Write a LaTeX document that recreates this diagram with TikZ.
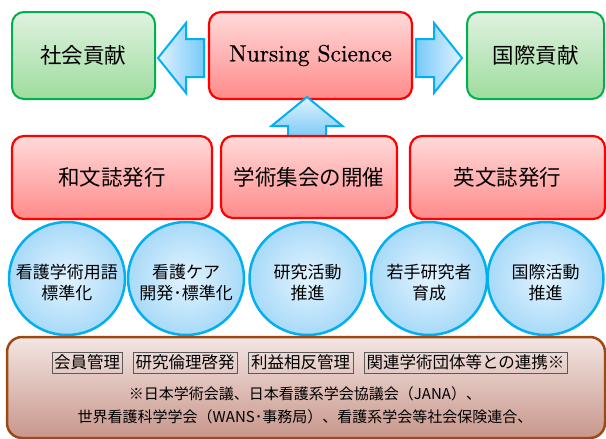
\documentclass[tikz,border=0pt]{standalone}
\usepackage{fontspec}
\newfontfamily\jp{Noto Sans CJK JP}
\newfontfamily\nsf[FakeBold=0.6]{lmroman10-regular.otf}
\usetikzlibrary{shapes.geometric,calc}
\definecolor{gborder}{HTML}{00B050}
\definecolor{gtop}{HTML}{DFF2DF}
\definecolor{gbot}{HTML}{9EDC9E}
\definecolor{rborder}{HTML}{FF0000}
\definecolor{rtop}{HTML}{FFDADA}
\definecolor{rbot}{HTML}{FF8A8A}
\definecolor{cborder}{HTML}{00B0F0}
\definecolor{cin}{HTML}{E2F3FF}
\definecolor{cout}{HTML}{A8DAF8}
\definecolor{alight}{HTML}{E0F1FF}
\definecolor{adark}{HTML}{78CAF8}
\definecolor{bborder}{HTML}{9C4A14}
\definecolor{btop}{HTML}{F3E6E3}
\definecolor{bbot}{HTML}{C8968B}
\definecolor{tgray}{HTML}{5A5A5A}
\begin{document}
\begin{tikzpicture}[x=1pt,y=-1pt,
  gbox/.style={draw=gborder, line width=2pt, rounded corners=12pt, top color=gtop, bottom color=gbot,
    font=\jp\fontsize{21.5}{26}\selectfont, inner sep=0pt},
  rbox/.style={draw=rborder, line width=2.2pt, rounded corners=12pt, top color=rtop, bottom color=rbot,
    font=\jp\fontsize{21.5}{26}\selectfont, inner sep=0pt},
  circ/.style={ellipse, draw=cborder, line width=2.5pt, inner color=cin, outer color=cout,
    minimum width=116pt, minimum height=113pt, inner sep=0pt},
  ctext/.style={font=\jp\fontsize{17}{21}\selectfont, align=center, inner sep=0pt},
  bbox/.style={draw=bborder, line width=2.5pt, rounded corners=15pt, top color=btop, bottom color=bbot, inner sep=0pt},
  tbox/.style={draw=tgray, line width=0.8pt, font=\jp\fontsize{16.5}{20}\selectfont, inner sep=0pt, minimum height=21pt},
  btext/.style={font=\jp\fontsize{15}{23}\selectfont, align=center, inner sep=0pt},
  barrow/.style={draw=cborder, line width=2pt, line join=miter}
]
\useasboundingbox (0,0) rectangle (606,439);

% top row
\node[gbox, minimum width=143pt, minimum height=87pt] (soc) at (83.5,55.5) {社会貢献};
\node[rbox, minimum width=203pt, minimum height=87pt, font=\nsf\fontsize{23.5}{28}\selectfont] (ns) at (310.5,55.5) {Nursing Science};
\node[gbox, minimum width=137pt, minimum height=87pt] (intl) at (535.5,55.5) {国際貢献};

% block arrows
\path[barrow, left color=alight, right color=adark, shift={($(soc.east)+(2,2.5)$)}]
  (0,0) -- (28,-35) -- (28,-19) -- (46,-19) -- (46,19) -- (28,19) -- (28,35) -- cycle;
\path[barrow, left color=adark, right color=alight, shift={($(intl.west)+(-4,2.5)$)}]
  (0,0) -- (-28,-35) -- (-28,-19) -- (-46,-19) -- (-46,19) -- (-28,19) -- (-28,35) -- cycle;

% up arrow (drawn before the middle box)
\coordinate (gaktop) at (307,136);
\path[barrow, top color=alight, bottom color=adark, shift={(gaktop)}]
  (0,-39) -- (35.5,-10) -- (19,-10) -- (19,2) -- (-19,2) -- (-19,-10) -- (-35.5,-10) -- cycle;

% second row
\node[rbox, minimum width=200pt, minimum height=83pt] (wa) at (112,177.5) {和文誌発行};
\node[rbox, minimum width=176pt, minimum height=82pt] (gak) at (309,177) {学術集会の開催};
\node[rbox, minimum width=195pt, minimum height=83pt] (ei) at (507.5,177.5) {英文誌発行};

% circles
\node[circ] (c1) at (67,278.5) {};
\node[circ] (c2) at (186,278.5) {};
\node[circ] (c3) at (307.5,278.5) {};
\node[circ] (c4) at (429,278.5) {};
\node[circ] (c5) at (545.5,278.5) {};
\node[ctext, yshift=-4pt] (t1) at (c1.center) {看護学術用語\\標準化};
\node[ctext, yshift=-4pt] (t2) at (c2.center) {看護ケア\\開発･標準化};
\node[ctext, yshift=-4pt] (t3) at (c3.center) {研究活動\\推進};
\node[ctext, yshift=-4pt] (t4) at (c4.center) {若手研究者\\育成};
\node[ctext, yshift=-4pt] (t5) at (c5.center) {国際活動\\推進};

% bottom box
\node[bbox, minimum width=598pt, minimum height=101pt] (base) at (306,387.5) {};
\node[tbox, minimum width=70pt] (k1) at (87,362.5) {会員管理};
\node[tbox, minimum width=104pt] (k2) at (185,362.5) {研究倫理啓発};
\node[tbox, minimum width=105pt] (k3) at (300.5,362.5) {利益相反管理};
\node[tbox, minimum width=203pt] (k4) at (465.5,362.5) {関連学術団体等との連携※};
\node[btext] (note) at (305,405) {※日本学術会議、日本看護系学会協議会（JANA）、\\世界看護科学学会（WANS･事務局）、看護系学会等社会保険連合、};
\end{tikzpicture}
\end{document}
